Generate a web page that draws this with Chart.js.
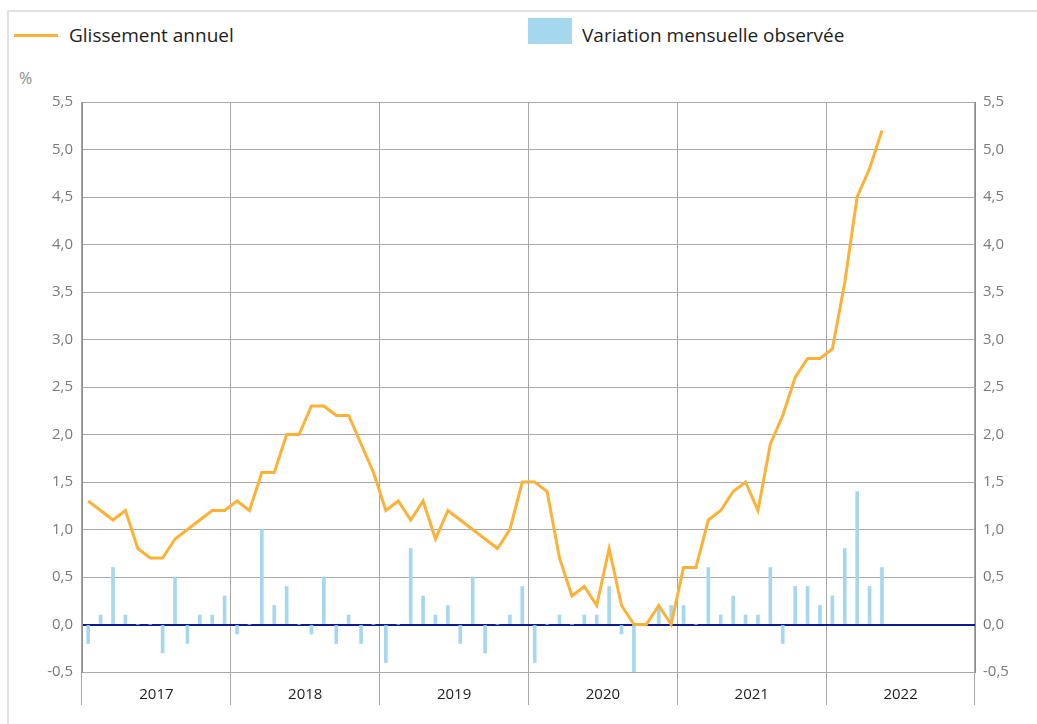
<!DOCTYPE html>
<html>
<head>
<meta charset="utf-8">
<script src="https://cdn.jsdelivr.net/npm/chart.js@4/dist/chart.umd.min.js"></script>
<style>
html,body{margin:0;padding:0;background:#fff;}
#wrap{position:relative;width:1037px;height:724px;overflow:hidden;font-family:'Open Sans',sans-serif;}
#c{position:absolute;left:0;top:0;}
.frame-top{position:absolute;left:7px;top:10px;width:1030px;height:2px;background:#e2e2e2;}
.frame-left{position:absolute;left:7px;top:10px;width:2px;height:714px;background:#e2e2e2;}
.leg-line{position:absolute;left:14px;top:34px;width:44px;height:3px;background:#FDB136;}
.leg-box{position:absolute;left:528px;top:18px;width:44px;height:26px;background:#A5D8EF;}
.leg-text{position:absolute;font-size:19px;color:#1e1e1e;line-height:26px;white-space:nowrap;}
.unit{position:absolute;left:19px;top:68px;font-size:16px;color:#8a8a8a;line-height:20px;}
</style>
</head>
<body>
<div id="wrap">
  <div class="frame-top"></div>
  <div class="frame-left"></div>
  <div class="leg-line"></div>
  <div class="leg-text" style="left:69px;top:22px;">Glissement annuel</div>
  <div class="leg-box"></div>
  <div class="leg-text" style="left:582px;top:22px;">Variation mensuelle observée</div>
  <div class="unit">%</div>
  <canvas id="c" width="1037" height="724"></canvas>
</div>
<script>
const years = ['2017','2018','2019','2020','2021','2022'];
const monthNames = ['janv.','févr.','mars','avr.','mai','juin','juil.','août','sept.','oct.','nov.','déc.'];

const glissementAnnuel = [
  1.3,1.2,1.1,1.2,0.8,0.7,0.7,0.9,1.0,1.1,1.2,1.2,
  1.3,1.2,1.6,1.6,2.0,2.0,2.3,2.3,2.2,2.2,1.9,1.6,
  1.2,1.3,1.1,1.3,0.9,1.2,1.1,1.0,0.9,0.8,1.0,1.5,
  1.5,1.4,0.7,0.3,0.4,0.2,0.8,0.2,0.0,0.0,0.2,0.0,
  0.6,0.6,1.1,1.2,1.4,1.5,1.2,1.9,2.2,2.6,2.8,2.8,
  2.9,3.6,4.5,4.8,5.2
];
const variationMensuelle = [
  -0.2,0.1,0.6,0.1,0.0,0.0,-0.3,0.5,-0.2,0.1,0.1,0.3,
  -0.1,0.0,1.0,0.2,0.4,0.0,-0.1,0.5,-0.2,0.1,-0.2,0.0,
  -0.4,0.0,0.8,0.3,0.1,0.2,-0.2,0.5,-0.3,0.0,0.1,0.4,
  -0.4,0.0,0.1,0.0,0.1,0.1,0.4,-0.1,-0.5,0.0,0.2,0.2,
  0.2,0.0,0.6,0.1,0.3,0.1,0.1,0.6,-0.2,0.4,0.4,0.2,
  0.3,0.8,1.4,0.4,0.6
];
const yMin = -0.5, yMax = 5.5, yStep = 0.5;

const monthLabels = [];
years.forEach(y => monthNames.forEach(m => monthLabels.push(m + ' ' + y)));

const fmt = v => (Math.abs(v) < 1e-9 ? 0 : v).toFixed(1).replace('.', ',');
const tickFont = {family:"'Open Sans', sans-serif", size:15};

new Chart(document.getElementById('c'), {
  data: {
    labels: monthLabels,
    datasets: [
      {type:'line', label:'Glissement annuel', data:glissementAnnuel, borderColor:'#FDB136',
       borderWidth:3, pointRadius:0, tension:0, order:0, xAxisID:'x', yAxisID:'y'},
      {type:'bar', label:'Variation mensuelle observée', data:variationMensuelle,
       backgroundColor:'#A5D8EF', barThickness:3, order:1, xAxisID:'x', yAxisID:'y'}
    ]
  },
  options: {
    responsive:false, animation:false,
    layout:{padding:{top:102, left:0, right:0, bottom:0}},
    plugins:{legend:{display:false}, tooltip:{enabled:false}},
    scales:{
      x:{type:'category', display:false, offset:true},
      x2:{type:'category', labels:years, position:'bottom', offset:true,
          grid:{offset:true, color:'#a6a6a6', lineWidth:1, tickLength:33, drawOnChartArea:true},
          border:{display:false},
          ticks:{padding:-19, color:'#1e1e1e', font:tickFont, maxRotation:0},
          afterFit: s => { s.height = 52; }},
      y:{position:'left', min:yMin, max:yMax,
         ticks:{stepSize:yStep, callback:v => fmt(v), color:'#7a7a7a', padding:9, font:tickFont},
         grid:{drawTicks:false,
               color: ctx => (Math.abs(ctx.tick.value) < 1e-9 ? '#0b1a8c' : '#a9a9a9'),
               lineWidth: ctx => (Math.abs(ctx.tick.value) < 1e-9 ? 2 : 1)},
         border:{color:'#8c8c8c', width:1},
         afterFit: s => { s.width = 82; }},
      y2:{position:'right', min:yMin, max:yMax,
          ticks:{stepSize:yStep, callback:v => fmt(v), color:'#7a7a7a', padding:8, font:tickFont},
          grid:{drawOnChartArea:false, drawTicks:false},
          border:{color:'#8c8c8c', width:1},
          afterFit: s => { s.width = 62; }}
    }
  }
});
</script>
</body>
</html>
